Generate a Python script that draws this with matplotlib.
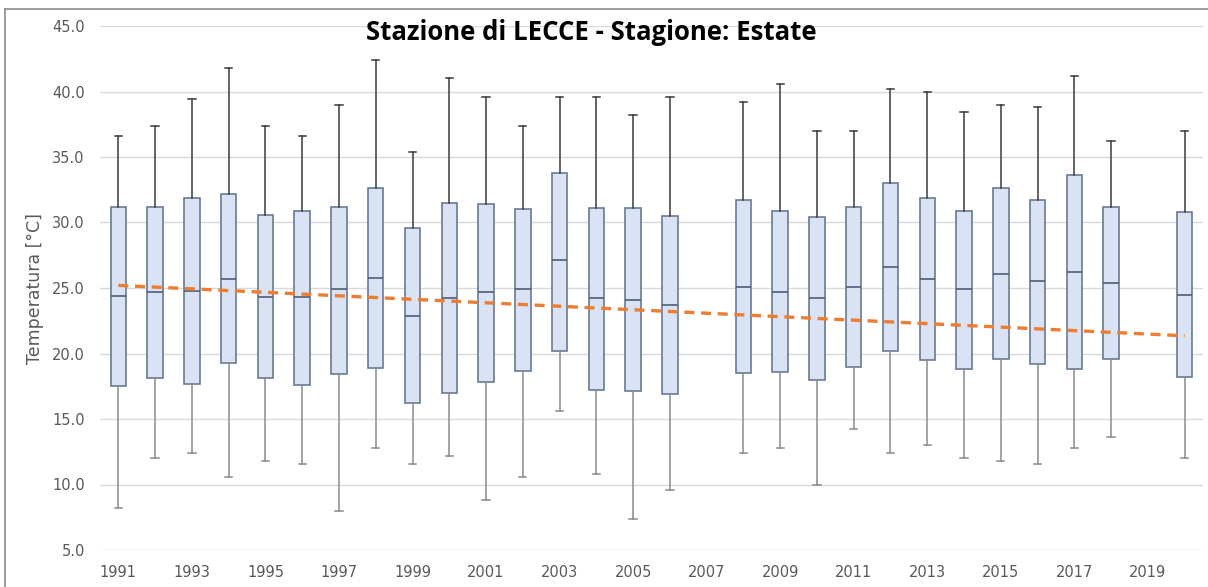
import numpy as np
import matplotlib.pyplot as plt
from matplotlib.lines import Line2D

years = [1991, 1992, 1993, 1994, 1995, 1996, 1997, 1998, 1999, 2000,
         2001, 2002, 2003, 2004, 2005, 2006, 2007, 2008, 2009, 2010,
         2011, 2012, 2013, 2014, 2015, 2016, 2017, 2018, 2019, 2020]

# None = no data for that year
t_max = [36.6, 37.4, 39.4, 41.8, 37.4, 36.6, 39.0, 42.4, 35.4, 41.0,
         39.6, 37.4, 39.6, 39.6, 38.2, 39.6, None, 39.2, 40.6, 37.0,
         37.0, 40.2, 40.0, 38.4, 39.0, 38.8, 41.2, 36.2, None, 37.0]
q3 = [31.2, 31.2, 31.9, 32.2, 30.6, 30.9, 31.2, 32.6, 29.6, 31.5,
      31.4, 31.0, 33.8, 31.1, 31.1, 30.5, None, 31.7, 30.9, 30.4,
      31.2, 33.0, 31.9, 30.9, 32.6, 31.7, 33.6, 31.2, None, 30.8]
med = [24.4, 24.7, 24.8, 25.7, 24.3, 24.3, 24.9, 25.8, 22.9, 24.2,
       24.7, 24.9, 27.1, 24.2, 24.1, 23.7, None, 25.1, 24.7, 24.2,
       25.1, 26.6, 25.7, 24.9, 26.1, 25.5, 26.2, 25.4, None, 24.5]
q1 = [17.5, 18.1, 17.7, 19.3, 18.1, 17.6, 18.4, 18.9, 16.2, 17.0,
      17.8, 18.7, 20.2, 17.2, 17.1, 16.9, None, 18.5, 18.6, 18.0,
      19.0, 20.2, 19.5, 18.8, 19.6, 19.2, 18.8, 19.6, None, 18.2]
t_min = [8.2, 12.0, 12.4, 10.6, 11.8, 11.6, 8.0, 12.8, 11.6, 12.2,
         8.8, 10.6, 15.6, 10.8, 7.4, 9.6, None, 12.4, 12.8, 10.0,
         14.2, 12.4, 13.0, 12.0, 11.8, 11.6, 12.8, 13.6, None, 12.0]

trend_start = 25.2   # 1991
trend_end = 21.35    # 2020

tick_years = [str(y) for y in years[::2]]

fig = plt.figure(figsize=(12.08, 5.87), dpi=100)
ax = fig.add_axes([100 / 1208, 1 - 550 / 587, 1103 / 1208, 524 / 587])

pos = np.arange(1, len(years) + 1)
stats, bpos = [], []
for i in range(len(years)):
    if med[i] is None:
        continue
    stats.append(dict(whislo=t_min[i], q1=q1[i], med=med[i], q3=q3[i], whishi=t_max[i]))
    bpos.append(pos[i])

bp = ax.bxp(stats, positions=bpos, widths=0.42, capwidths=0.2, patch_artist=True,
            showfliers=False,
            boxprops=dict(facecolor='#dae3f3', edgecolor='#6a7a96', linewidth=1.2),
            medianprops=dict(color='#4f5d78', linewidth=1.2),
            whiskerprops=dict(linewidth=1.1),
            capprops=dict(linewidth=1.1))
for k, (w, c) in enumerate(zip(bp['whiskers'], bp['caps'])):
    col = '#8a8a8a' if k % 2 == 0 else '#3a3a3a'
    w.set_color(col)
    c.set_color(col)

ax.plot([pos[0], pos[-1]], [trend_start, trend_end], ls=(0, (3, 2)),
        color='#ed7d31', lw=2.4, zorder=5)

ax.set_xlim(0.5, len(years) + 0.5)
ax.set_ylim(5, 45)
ax.set_yticks(np.arange(5, 46, 5))
ax.set_yticklabels([f'{v:.1f}' for v in np.arange(5, 46, 5)])
ax.set_xticks(pos[::2])
ax.set_xticklabels(tick_years)
ax.grid(axis='y', color='#d9d9d9', lw=1)
ax.set_axisbelow(True)
for s in ax.spines.values():
    s.set_visible(False)
ax.tick_params(length=0, labelsize=10.5, labelcolor='#595959')
ax.tick_params(axis='x', pad=11)
ax.tick_params(axis='y', pad=11)
ax.set_ylabel('Temperatura [°C]', fontsize=12.5, color='#595959', labelpad=6)

fig.text(591 / 1208, 1 - 33 / 587, 'Stazione di LECCE - Stagione: Estate',
         ha='center', va='center', fontsize=18.5, fontweight='bold',
         family='Open Sans')

# outer frame
fig.add_artist(Line2D([5 / 1208, 1], [1 - 9 / 587] * 2, color='#8c8c8c', lw=1.2))
fig.add_artist(Line2D([5 / 1208] * 2, [0, 1 - 9 / 587], color='#8c8c8c', lw=1.2))

fig.savefig('out.png', dpi=100)
